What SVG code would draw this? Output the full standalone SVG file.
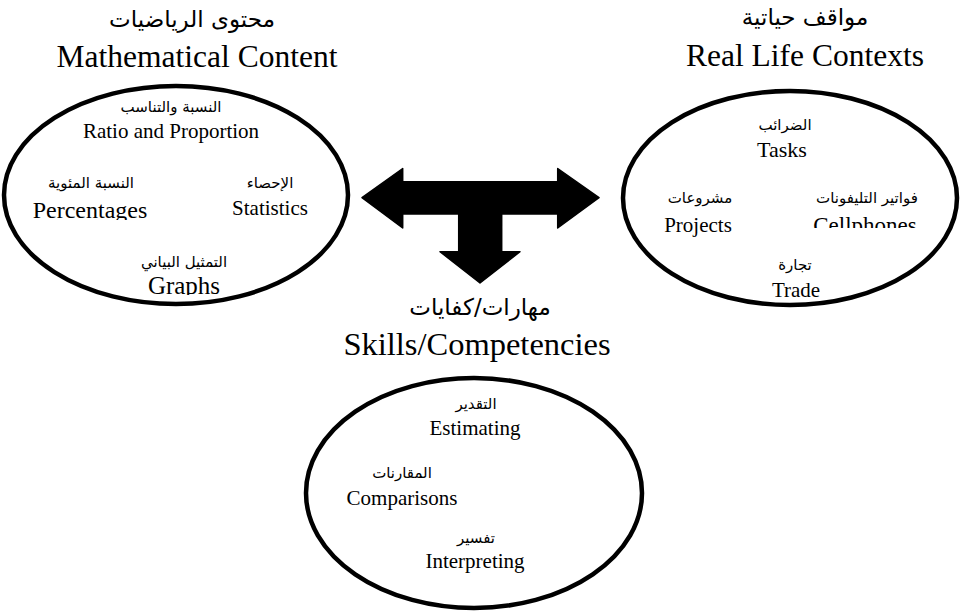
<svg xmlns="http://www.w3.org/2000/svg" width="961" height="612" viewBox="0 0 961 612">
  <style>
    .ring { fill: none; stroke: #000; stroke-width: 4.5; }
    .title-ar { font-family: "DejaVu Sans", "Liberation Sans", sans-serif; font-size: 23px; fill: #000; text-anchor: middle; }
    .title-en { font-family: "Liberation Serif", serif; font-size: 31.5px; fill: #000; text-anchor: middle; }
    .item-ar { font-family: "DejaVu Sans", "Liberation Sans", sans-serif; font-size: 15px; fill: #000; text-anchor: middle; }
    .item-en { font-family: "Liberation Serif", serif; font-size: 21px; fill: #000; text-anchor: middle; }
  </style>
  <defs>
    <clipPath id="clip-percentages"><rect x="0" y="190" width="200" height="30"/></clipPath>
    <clipPath id="clip-graphs"><rect x="100" y="268" width="180" height="27"/></clipPath>
    <clipPath id="clip-cellphones"><rect x="780" y="205" width="180" height="23"/></clipPath>
  </defs>
  <rect width="961" height="612" fill="#fff"/>

  <!-- Mathematical content -->
  <g id="math-content">
    <text class="title-ar" x="192" y="27" direction="rtl">محتوى الرياضيات</text>
    <text class="title-en" x="197" y="67">Mathematical Content</text>
    <ellipse class="ring" cx="176" cy="195" rx="172" ry="109"/>
    <text class="item-ar" x="171" y="112" direction="rtl">النسبة والتناسب</text>
    <text class="item-en" x="171" y="138">Ratio and Proportion</text>
    <text class="item-ar" x="91" y="188" direction="rtl">النسبة المئوية</text>
    <text class="item-en" x="90" y="218" style="font-size:24px" clip-path="url(#clip-percentages)">Percentages</text>
    <text class="item-ar" x="270" y="188" direction="rtl">الإحصاء</text>
    <text class="item-en" x="270" y="215">Statistics</text>
    <text class="item-ar" x="184" y="267" direction="rtl">التمثيل البياني</text>
    <text class="item-en" x="184" y="294" style="font-size:25px" clip-path="url(#clip-graphs)">Graphs</text>
  </g>

  <!-- Real life contexts -->
  <g id="real-life">
    <text class="title-ar" x="805" y="25" direction="rtl">مواقف حياتية</text>
    <text class="title-en" x="805" y="66">Real Life Contexts</text>
    <ellipse class="ring" cx="790" cy="198" rx="167" ry="107"/>
    <text class="item-ar" x="785" y="130" direction="rtl">الضرائب</text>
    <text class="item-en" x="782" y="157" style="font-size:22px">Tasks</text>
    <text class="item-ar" x="700" y="203" direction="rtl">مشروعات</text>
    <text class="item-en" x="698" y="232">Projects</text>
    <text class="item-ar" x="867" y="203" direction="rtl">فواتير التليفونات</text>
    <text class="item-en" x="865" y="233" style="font-size:23px" clip-path="url(#clip-cellphones)">Cellphones</text>
    <text class="item-ar" x="795" y="270" direction="rtl">تجارة</text>
    <text class="item-en" x="796" y="297">Trade</text>
  </g>

  <!-- Skills / competencies -->
  <g id="skills">
    <text class="title-ar" x="480" y="315" direction="rtl">مهارات/كفايات</text>
    <text class="title-en" x="477" y="355" style="font-size:32.5px">Skills/Competencies</text>
    <ellipse class="ring" cx="474" cy="493" rx="168" ry="115"/>
    <text class="item-ar" x="476" y="409" direction="rtl">التقدير</text>
    <text class="item-en" x="475" y="435">Estimating</text>
    <text class="item-ar" x="402" y="478" direction="rtl">المقارنات</text>
    <text class="item-en" x="402" y="505">Comparisons</text>
    <text class="item-ar" x="476" y="543" direction="rtl">تفسير</text>
    <text class="item-en" x="475" y="568">Interpreting</text>
  </g>

  <!-- Three-way connector arrow -->
  <g id="connectors">
    <path d="M 362 197.7 L 402.7 168.5 L 402.7 181.7 L 557.7 181.7 L 557.7 168.5 L 599 197.7 L 557.7 228 L 557.7 214 L 501.7 214 L 501.7 251.7 L 520 251.7 L 480 283 L 440 251.7 L 458.7 251.7 L 458.7 214 L 402.7 214 L 402.7 228 Z" fill="#000" stroke="#000" stroke-width="1.5" stroke-linejoin="round"/>
  </g>
</svg>
